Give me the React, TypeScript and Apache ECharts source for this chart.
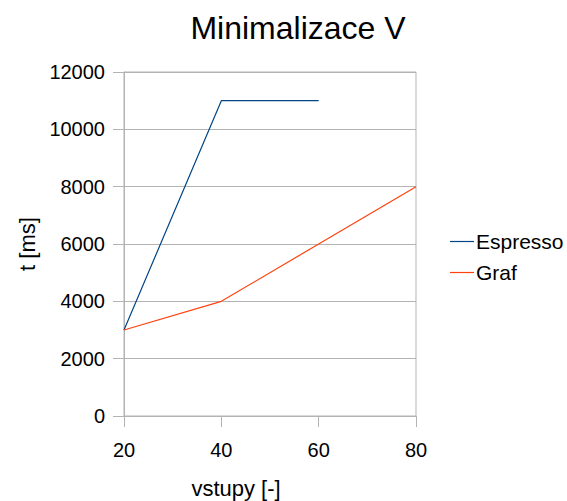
import React, { useEffect, useRef } from "react";
import * as echarts from "echarts";

// Počet vstupů a naměřené časy minimalizace
const inputs = [20, 40, 60, 80];
const espressoTimes = [3000, 11000, 11000];
const grafTimes = [3000, 4000, 6000, 8000];
const seriesNames = ["Espresso", "Graf"];

const FONT = "'Liberation Sans', Arial, sans-serif";

export default function App() {
  const ref = useRef<HTMLDivElement>(null);

  useEffect(() => {
    if (!ref.current) return;
    const chart = echarts.init(ref.current, undefined, { renderer: "svg" });
    const pairs = (ys: number[]) => ys.map((y, i) => [inputs[i], y]);
    chart.setOption({
      animation: false,
      backgroundColor: "#ffffff",
      textStyle: { fontFamily: FONT },
      title: {
        text: "Minimalizace V",
        left: 293,
        top: 7,
        textAlign: "center",
        textStyle: { fontFamily: FONT, fontSize: 32, fontWeight: "normal", color: "#000" },
      },
      legend: {
        orient: "vertical",
        left: 445,
        top: 226,
        itemWidth: 24,
        itemHeight: 14,
        itemGap: 10,
        icon: "path://M0,6 L24,6 L24,7.2 L0,7.2 Z",
        textStyle: { fontFamily: FONT, fontSize: 21, color: "#000", padding: [0, 0, 0, -3] },
        data: seriesNames,
      },
      grid: {
        left: 124,
        right: 151,
        top: 72,
        bottom: 85,
        outerBoundsMode: "none",
        show: true,
        borderColor: "#b3b3b3",
        borderWidth: 1,
      },
      xAxis: {
        type: "value",
        min: 20,
        max: 80,
        interval: 20,
        name: "vstupy [-]",
        nameLocation: "middle",
        nameGap: 61,
        nameTextStyle: { fontFamily: FONT, fontSize: 22, color: "#000", padding: [0, 68, 0, 0] },
        axisLine: { lineStyle: { color: "#b3b3b3" } },
        axisTick: { show: true, inside: false, length: 11, lineStyle: { color: "#b3b3b3" } },
        axisLabel: { fontFamily: FONT, fontSize: 20, color: "#000", margin: 24 },
        splitLine: { show: false },
      },
      yAxis: {
        type: "value",
        min: 0,
        max: 12000,
        interval: 2000,
        name: "t [ms]",
        nameLocation: "middle",
        nameGap: 79,
        nameTextStyle: { fontFamily: FONT, fontSize: 22, color: "#000" },
        axisLine: { show: true, lineStyle: { color: "#b3b3b3" } },
        axisTick: { show: true, inside: false, length: 11, lineStyle: { color: "#b3b3b3" } },
        axisLabel: {
          fontFamily: FONT,
          fontSize: 20,
          color: "#000",
          margin: 19,
          formatter: (v: number) => String(v),
        },
        splitLine: { show: true, lineStyle: { color: "#b3b3b3", width: 1 } },
      },
      series: [
        {
          name: seriesNames[0],
          type: "line",
          data: pairs(espressoTimes),
          showSymbol: false,
          symbol: "none",
          lineStyle: { color: "#004586", width: 1.2 },
          itemStyle: { color: "#004586" },
        },
        {
          name: seriesNames[1],
          type: "line",
          data: pairs(grafTimes),
          showSymbol: false,
          symbol: "none",
          lineStyle: { color: "#ff420e", width: 1.2 },
          itemStyle: { color: "#ff420e" },
        },
      ],
    });
    return () => chart.dispose();
  }, []);

  return (
    <div
      ref={ref}
      style={{ position: "absolute", left: 0, top: 0, width: 567, height: 501 }}
    />
  );
}
